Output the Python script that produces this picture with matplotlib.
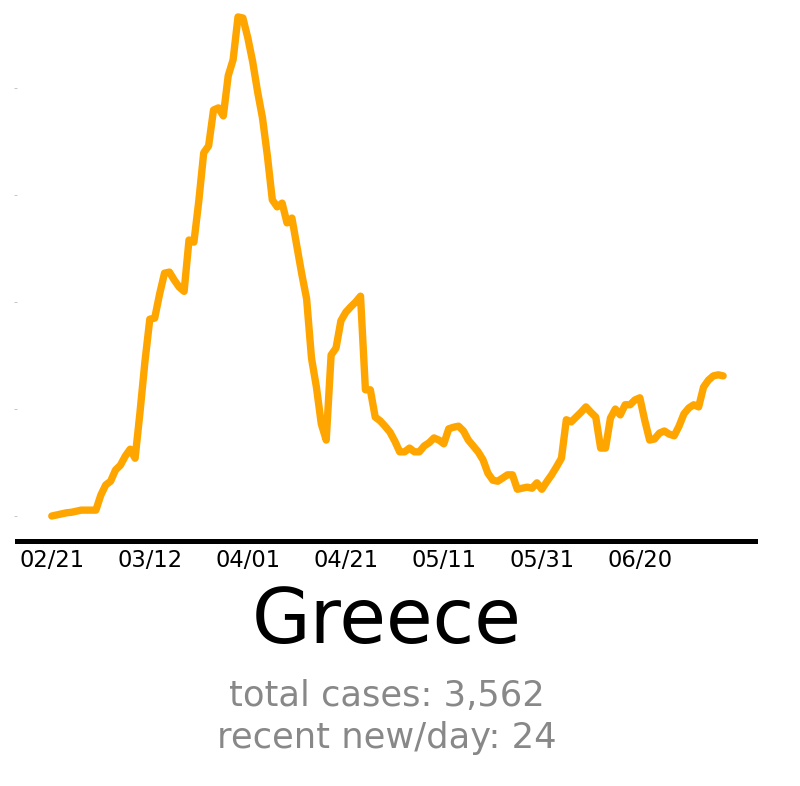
import numpy as np
import pandas as pd
from matplotlib import pyplot as plt
import matplotlib.dates as mdates

country = "Greece"
total_cases = 3562
recent_per_day = 24
start = "2020-02-21"

# 7-day average of new cases per day
new_per_day = [
    0.0, 0.2, 0.4, 0.6, 0.7, 0.9, 1.1, 1.1, 1.1, 1.1,
    3.9, 5.8, 6.5, 8.6, 9.5, 11.2, 12.5, 10.8, 19.4, 28.8,
    36.8, 37.0, 41.5, 45.4, 45.6, 44.1, 42.8, 42.0, 51.6, 51.2,
    58.9, 67.9, 69.2, 75.9, 76.3, 74.8, 82.3, 85.3, 93.3, 93.1,
    89.4, 84.9, 79.3, 74.4, 67.3, 59.1, 57.8, 58.5, 54.8, 55.7,
    50.5, 45.3, 40.6, 29.5, 24.1, 17.2, 14.2, 30.1, 31.4, 36.5,
    38.1, 39.1, 40.0, 41.1, 23.6, 23.6, 18.5, 17.8, 16.8, 15.7,
    14.0, 12.0, 12.0, 12.7, 12.0, 12.0, 13.1, 13.7, 14.6, 14.2,
    13.5, 16.3, 16.6, 16.8, 15.9, 14.2, 13.1, 12.0, 10.5, 8.0,
    6.7, 6.5, 7.1, 7.7, 7.7, 5.0, 5.2, 5.4, 5.2, 6.2,
    5.0, 6.4, 7.7, 9.2, 10.8, 18.0, 17.6, 18.5, 19.4, 20.4,
    19.4, 18.5, 12.7, 12.7, 18.3, 20.0, 18.9, 20.8, 20.8, 21.7,
    22.1, 17.9, 14.2, 14.4, 15.5, 15.9, 15.3, 15.0, 16.8, 19.1,
    20.2, 20.8, 20.4, 24.1, 25.4, 26.2, 26.4, 26.2,
]
y_ticks = [0, 20, 40, 60, 80]

dates = pd.date_range(start, periods=len(new_per_day), freq="D")
tick_dates = pd.date_range(start, periods=7, freq="20D")

fig = plt.figure(figsize=(8, 7.86), dpi=100)
ax = fig.add_axes([0.02125, 0.3117, 0.9225, 0.6756])
ax.plot(dates, new_per_day, color="#FFA500", lw=5.3, solid_joinstyle="round",
        solid_capstyle="round", clip_on=False)

t0 = pd.Timestamp(start)
ax.set_xlim(t0 - pd.Timedelta(days=7.1), t0 + pd.Timedelta(days=143.5))
ax.set_ylim(-4.67, 94.6)

ax.set_xticks(tick_dates)
ax.xaxis.set_major_formatter(mdates.DateFormatter("%m/%d"))
ax.tick_params(axis="x", length=0, pad=6, labelsize=16.3)
ax.set_yticks(y_ticks)
ax.set_yticklabels([])
ax.tick_params(axis="y", length=2, width=0.6, color="#bbbbbb")

for side in ["top", "right", "left"]:
    ax.spines[side].set_visible(False)
ax.spines["bottom"].set_linewidth(3.6)

fig.text(0.483, 1 - 622 / 786, country, fontsize=54.6, ha="center", va="center")
fig.text(0.483, 1 - 696 / 786, f"total cases: {total_cases:,}", fontsize=25.4,
         color="#888888", ha="center", va="center")
fig.text(0.483, 1 - 738 / 786, f"recent new/day: {recent_per_day}", fontsize=25.4,
         color="#888888", ha="center", va="center")

fig.savefig("out.png", dpi=100)
